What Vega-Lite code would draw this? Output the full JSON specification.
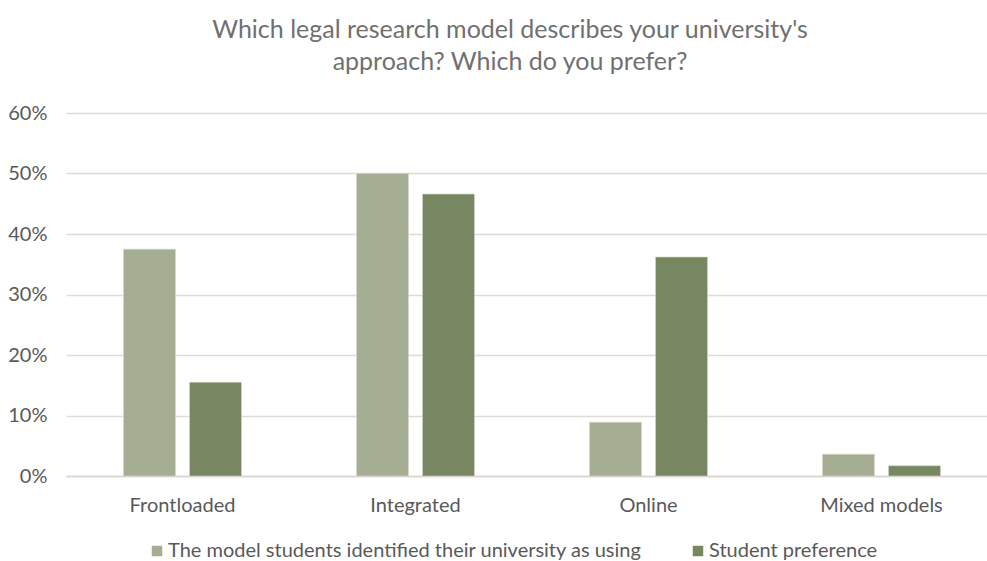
{
  "$schema": "https://vega.github.io/schema/vega-lite/v6.json",
  "autosize": {"type": "none"},
  "padding": {"left": 66, "top": 113, "right": -11, "bottom": 85},
  "width": 932,
  "height": 363,
  "background": "white",
  "title": {
    "text": ["Which legal research model describes your university's", "approach? Which do you prefer?"],
    "font": "Lato",
    "fontSize": 25,
    "fontWeight": "normal",
    "color": "#707070",
    "lineHeight": 32,
    "anchor": "middle",
    "frame": "group",
    "dx": -22,
    "offset": 28
  },
  "config": {
    "view": {"stroke": null},
    "font": "Lato"
  },
  "data": {
    "values": [
      {"model": "Frontloaded", "series": "The model students identified their university as using", "value": 0.375},
      {"model": "Frontloaded", "series": "Student preference", "value": 0.155},
      {"model": "Integrated", "series": "The model students identified their university as using", "value": 0.50},
      {"model": "Integrated", "series": "Student preference", "value": 0.466},
      {"model": "Online", "series": "The model students identified their university as using", "value": 0.089},
      {"model": "Online", "series": "Student preference", "value": 0.362},
      {"model": "Mixed models", "series": "The model students identified their university as using", "value": 0.036},
      {"model": "Mixed models", "series": "Student preference", "value": 0.017}
    ]
  },
  "mark": {"type": "bar", "stroke": "#d8d6cf", "strokeWidth": 0.6},
  "encoding": {
    "x": {
      "field": "model",
      "type": "nominal",
      "sort": ["Frontloaded", "Integrated", "Online", "Mixed models"],
      "scale": {"paddingInner": 0, "paddingOuter": 0},
      "axis": {
        "title": null,
        "labelAngle": 0,
        "labelFont": "Lato",
        "labelFontSize": 20,
        "labelColor": "#595959",
        "labelPadding": 19,
        "ticks": false,
        "domain": true,
        "domainColor": "#d9d4cf",
        "domainWidth": 1.5
      }
    },
    "xOffset": {
      "field": "series",
      "type": "nominal",
      "sort": ["The model students identified their university as using", "Student preference"],
      "scale": {"paddingInner": 0.212, "paddingOuter": 0.871}
    },
    "y": {
      "field": "value",
      "type": "quantitative",
      "scale": {"domain": [0, 0.6]},
      "axis": {
        "title": null,
        "format": ".0%",
        "values": [0, 0.1, 0.2, 0.3, 0.4, 0.5, 0.6],
        "labelOverlap": false,
        "labelFont": "Lato",
        "labelFontSize": 20,
        "labelColor": "#595959",
        "labelPadding": 19,
        "ticks": false,
        "domain": false,
        "gridColor": "#e0dbd7",
        "gridWidth": 1.5
      }
    },
    "color": {
      "field": "series",
      "type": "nominal",
      "scale": {
        "domain": ["The model students identified their university as using", "Student preference"],
        "range": ["#a5ad92", "#778762"]
      },
      "legend": {
        "title": null,
        "orient": "none",
        "direction": "horizontal",
        "legendX": 81,
        "legendY": 428,
        "symbolType": "square",
        "symbolSize": 110,
        "symbolStrokeWidth": 0,
        "labelFont": "Lato",
        "labelFontSize": 20,
        "labelLimit": 700,
        "labelColor": "#595959",
        "labelOffset": 1,
        "columnPadding": 46
      }
    }
  }
}
